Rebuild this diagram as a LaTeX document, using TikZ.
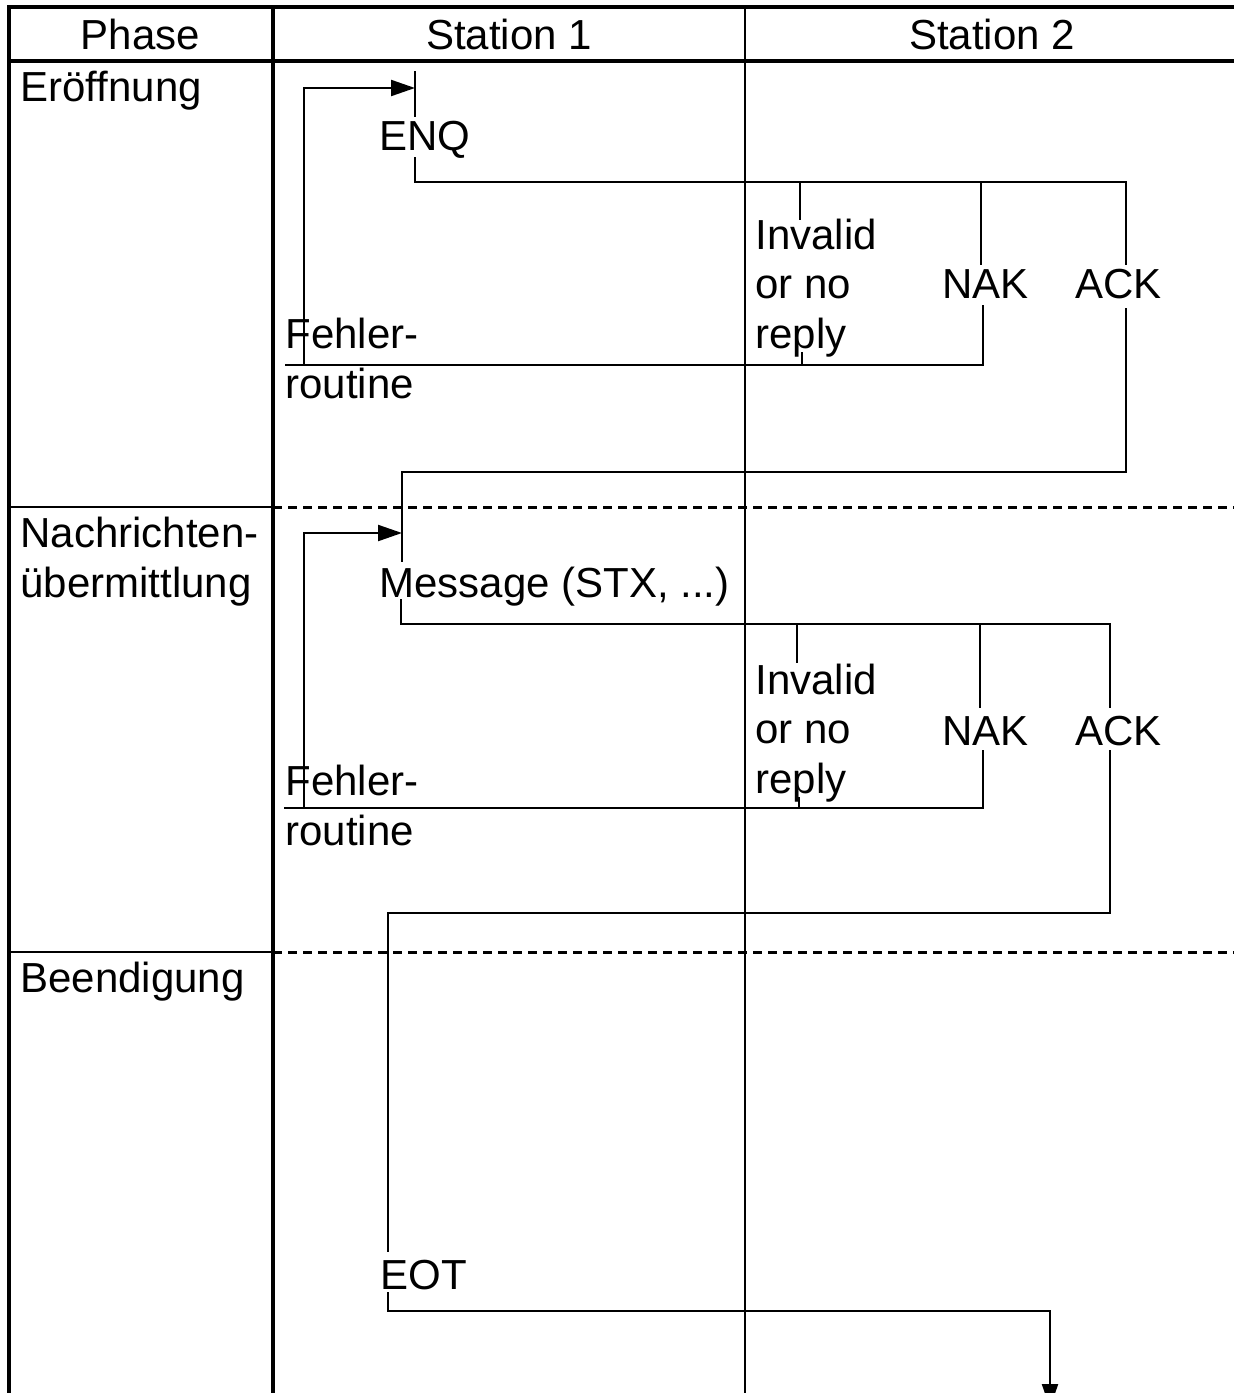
\documentclass[tikz,border=0pt]{standalone}
\usepackage{fontspec}
\setmainfont{Liberation Sans}
\usetikzlibrary{arrows.meta}
\tikzset{
  lbl/.style={inner sep=0pt, anchor=base west, font=\fontsize{21}{24.75}\selectfont, align=left},
  hdr/.style={inner sep=0pt, anchor=base, font=\fontsize{21}{24.75}\selectfont},
  thickline/.style={line width=2pt},
  thinline/.style={line width=1pt},
  sep/.style={line width=1.5pt, dash pattern=on 4.5pt off 3pt},
  conn/.style={line width=1.1pt},
  arr/.style={conn, -{Triangle[length=12pt,width=8pt]}}
}
\begin{document}
\begin{tikzpicture}[x=0.5pt,y=-0.5pt]
\useasboundingbox (0,0) rectangle (1234,1393);
% grid
\draw[thinline] (745,7) -- (745,1400);
\draw[thickline] (9,7) -- (9,1400);
\draw[thickline] (273,7) -- (273,1400);
\draw[thickline] (7,7) -- (1240,7);
\draw[thickline] (7,61) -- (1240,61);
\draw[thinline] (9,507) -- (273,507);
\draw[thinline] (9,952) -- (273,952);
\draw[sep] (273,507) -- (1240,507);
\draw[sep] (273,952) -- (1240,952);
% header
\node[hdr] (hphase) at (140.5,49) {Phase};
\node[hdr] (hst1) at (509,49) {Station 1};
\node[hdr] (hst2) at (992,49) {Station 2};
% phase labels (base = last line)
\node[lbl] (ph1) at (20,101) {Eröffnung};
\node[lbl] (ph2) at (20,597) {Nachrichten-\\übermittlung};
\node[lbl] (ph3) at (20,992) {Beendigung};
% block 1 labels
\node[lbl] (enq) at (379,150) {ENQ};
\node[lbl] (inv1) at (755,348) {Invalid\\or no\\reply};
\node[lbl] (nak1) at (942,298) {NAK};
\node[lbl] (ack1) at (1075,298) {ACK};
\node[lbl] (fe1) at (285,398) {Fehler-\\routine};
% block 2 labels
\node[lbl] (msg) at (379,597) {Message (STX, ...)};
\node[lbl] (inv2) at (755,793) {Invalid\\or no\\reply};
\node[lbl] (nak2) at (942,745) {NAK};
\node[lbl] (ack2) at (1075,745) {ACK};
\node[lbl] (fe2) at (285,845) {Fehler-\\routine};
% block 3 label
\node[lbl] (eot) at (380,1289) {EOT};
% coordinates block 1
\coordinate (enqA) at (415,71);
\coordinate (enqB) at (415,117);
\coordinate (enqArr) at (415,88);
\coordinate (enqC) at (415,157);
\coordinate (ack1a) at (1126,182);
\coordinate (ack1b) at (1126,265);
\coordinate (ack1c) at (1126,308);
\coordinate (ack1d) at (1126,472);
\coordinate (inv1a) at (800,182);
\coordinate (inv1b) at (800,220);
\coordinate (inv1c) at (802,352);
\coordinate (inv1d) at (802,365);
\coordinate (nak1a) at (981,182);
\coordinate (nak1b) at (981,265);
\coordinate (nak1c) at (983,305);
\coordinate (fe1a) at (285,365);
\coordinate (loop1) at (304,365);
% coordinates block 2
\coordinate (msgA) at (402,472);
\coordinate (msgB) at (402,562);
\coordinate (msgArr) at (402,533);
\coordinate (msgC) at (401,599);
\coordinate (ack2a) at (1110,624);
\coordinate (ack2b) at (1110,708);
\coordinate (ack2c) at (1110,750);
\coordinate (ack2d) at (1110,913);
\coordinate (inv2a) at (797,624);
\coordinate (inv2b) at (797,663);
\coordinate (inv2c) at (799,797);
\coordinate (inv2d) at (799,808);
\coordinate (nak2a) at (980,624);
\coordinate (nak2b) at (980,708);
\coordinate (nak2c) at (983,750);
\coordinate (fe2a) at (284,808);
\coordinate (loop2) at (304,808);
% coordinates block 3
\coordinate (eotA) at (388,1252);
\coordinate (eotB) at (388,1292);
\coordinate (endA) at (1050,1311);
\coordinate (endB) at (1050,1408);
% connectors block 1
\draw[conn] (enqA) -- (enqB);
\draw[arr] (loop1) |- (enqArr);
\draw[conn] (enqC) |- (ack1a) -- (ack1b);
\draw[conn] (inv1a) -- (inv1b);
\draw[conn] (inv1c) -- (inv1d);
\draw[conn] (nak1a) -- (nak1b);
\draw[conn] (nak1c) |- (fe1a);
\draw[conn] (ack1c) -- (ack1d) -| (msgB);
% connectors block 2
\draw[arr] (loop2) |- (msgArr);
\draw[conn] (msgC) |- (ack2a) -- (ack2b);
\draw[conn] (inv2a) -- (inv2b);
\draw[conn] (inv2c) -- (inv2d);
\draw[conn] (nak2a) -- (nak2b);
\draw[conn] (nak2c) |- (fe2a);
\draw[conn] (ack2c) -- (ack2d) -| (eotA);
% block 3
\draw[arr] (eotB) |- (endA) -- (endB);
\end{tikzpicture}
\end{document}
